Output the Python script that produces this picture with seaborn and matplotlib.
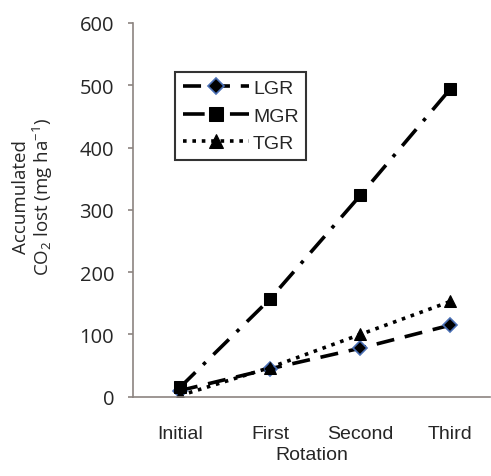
import matplotlib
matplotlib.use("Agg")
import matplotlib.pyplot as plt
import seaborn as sns
import pandas as pd

rotations = ["Initial", "First", "Second", "Third"]
lgr = [10, 45, 78, 115]
mgr = [15, 157, 323, 494]
tgr = [2, 47, 100, 153]

sns.set_style("white")
plt.rcParams['font.family'] = ['Liberation Sans', 'DejaVu Sans']
plt.rcParams['mathtext.fontset'] = 'custom'
plt.rcParams['mathtext.rm'] = 'Open Sans'
plt.rcParams['mathtext.it'] = 'Open Sans:italic'

fig = plt.figure(figsize=(4.91, 4.77), dpi=100)
ax = fig.add_axes([0.271, 0.166, 0.727, 0.784])

df = pd.DataFrame({"Rotation": rotations * 3,
                   "value": lgr + mgr + tgr,
                   "series": ["LGR"] * 4 + ["MGR"] * 4 + ["TGR"] * 4})

sns.lineplot(data=df[df.series == "LGR"], x="Rotation", y="value", ax=ax,
             color="black", lw=2.6, linestyle=(0, (5, 3)),
             marker="D", markersize=7, markerfacecolor="black",
             markeredgecolor="#4a6fb5", markeredgewidth=1.2, label="LGR", sort=False)
sns.lineplot(data=df[df.series == "MGR"], x="Rotation", y="value", ax=ax,
             color="black", lw=2.6, linestyle=(0, (6, 3, 1, 3)),
             marker="s", markersize=9, markeredgecolor="black", label="MGR", sort=False)
sns.lineplot(data=df[df.series == "TGR"], x="Rotation", y="value", ax=ax,
             color="black", lw=2.6, linestyle=(0, (1, 1.6)),
             marker="^", markersize=9, markeredgecolor="black", label="TGR", sort=False)

ax.set_xlim(-0.52, 3.44)
ax.set_ylim(0, 600)
ax.set_yticks([0, 100, 200, 300, 400, 500, 600])
ax.tick_params(axis="y", labelsize=14.5, length=3.6, width=1.2, color="#8c8480", left=True, pad=10)
ax.tick_params(axis="x", labelsize=14, length=0, pad=20)
for lab in ax.get_yticklabels():
    lab.set_family(['Open Sans', 'DejaVu Sans'])
for s in ["top", "right"]:
    ax.spines[s].set_visible(False)
for s in ["left", "bottom"]:
    ax.spines[s].set_color("#8c8480")
    ax.spines[s].set_linewidth(1.2)

ax.set_xlabel("Rotation", fontsize=14, labelpad=3)
ax.set_ylabel("Accumulated\nCO$_2$ lost (mg ha$^{-1}$)", fontsize=13.5, labelpad=18,
              linespacing=1.0, family=['Open Sans', 'DejaVu Sans'])
ax.yaxis.label.set_y(0.537)

leg = ax.legend(loc="upper left", bbox_to_anchor=(0.118, 0.869), fontsize=14,
                frameon=True, fancybox=False, edgecolor="black", handlelength=3.4,
                borderpad=0.4, labelspacing=0.5, handletextpad=0.2,
                borderaxespad=0, markerscale=1.1)
leg.get_frame().set_linewidth(1.5)

fig.savefig("out.png", dpi=100)
